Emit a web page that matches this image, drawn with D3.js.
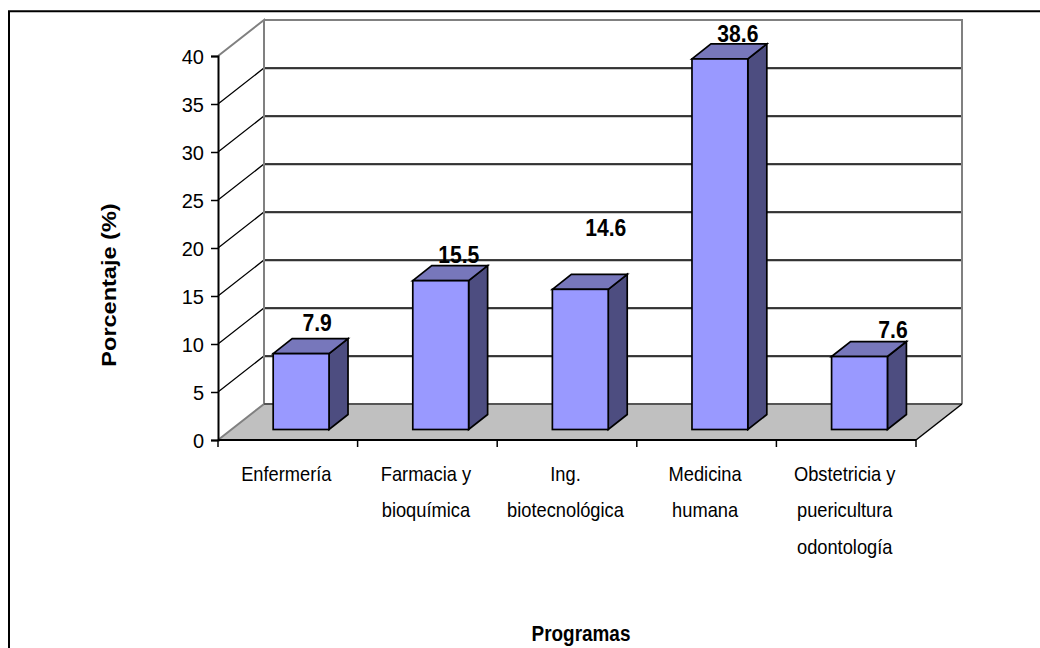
<!DOCTYPE html>
<html>
<head>
<meta charset="utf-8">
<script src="https://cdn.jsdelivr.net/npm/d3@7"></script>
<style>
  html, body { margin: 0; padding: 0; background: #fff; }
  svg { display: block; font-family: "Liberation Sans", Arial, sans-serif; }
  text { fill: #000; }
</style>
</head>
<body>
<svg id="chart" width="1040" height="648"></svg>
<script>
// Survey share by study programme
const categories = [
  ["Enfermería"],
  ["Farmacia y", "bioquímica"],
  ["Ing.", "biotecnológica"],
  ["Medicina", "humana"],
  ["Obstetricia y", "puericultura", "odontología"]
];
const percentages = [7.9, 15.5, 14.6, 38.6, 7.6];
const yTicks = [0, 5, 10, 15, 20, 25, 30, 35, 40];
const yTitle = "Porcentaje (%)";
const xTitle = "Programas";

// Data labels sit off-centre from their bars
const labelShiftX = [16, 18, 25.5, 18, 33.5];
const labelShiftY = [-23, -18, -53, -16.5, -19];

const svg = d3.select("#chart");

const names = categories.map(c => c.join(" "));
const x = d3.scaleBand().domain(names).range([218, 916]);
const y = d3.scaleLinear().domain([0, 40]).range([440, 56]);

// Oblique projection of the 3D box
const depthX = 46, depthY = 36;
const barDepthX = 19, barDepthY = 15;
const barInsetX = 13.3, barInsetY = 10.5;
const barWidth = x.bandwidth() * 0.4;

const GREY = "#808080";

function put(sel, tx, ty, str, size, weight, sx, rot) {
  return sel.append("text")
    .attr("transform", `translate(${tx},${ty})` + (rot ? ` rotate(${rot})` : "") + ` scale(${sx},1)`)
    .attr("text-anchor", "middle")
    .attr("font-size", size)
    .attr("font-weight", weight)
    .text(str);
}

// Page frame: top and left rules only
svg.append("path").attr("d", "M9,648V11.3H1040")
  .attr("fill", "none").attr("stroke", "#000").attr("stroke-width", 2);

const [x0, x1] = x.range();
const gy0 = y(0), gyTop = y(40);

// Floor
svg.append("path")
  .attr("d", `M${x0},${gy0}L${x0 + depthX},${gy0 - depthY}H${x1 + depthX}L${x1},${gy0}Z`)
  .attr("fill", "#c0c0c0");

// Gridlines across both walls
const grid = svg.append("g");
yTicks.slice(1, -1).forEach(t => {
  grid.append("path")
    .attr("d", `M${x0 + depthX},${y(t) - depthY + 1}H${x1 + depthX}`)
    .attr("stroke", "#999").attr("fill", "none");
  grid.append("path")
    .attr("d", `M${x0},${y(t)}L${x0 + depthX},${y(t) - depthY}H${x1 + depthX}`)
    .attr("stroke", "#000").attr("stroke-width", 1.3).attr("fill", "none");
});

// Wall outline
svg.append("path")
  .attr("d", `M${x0},${gy0}L${x0 + depthX},${gy0 - depthY}V${gyTop - depthY}L${x0},${gyTop}M${x0 + depthX},${gyTop - depthY}H${x1 + depthX}V${gy0 - depthY}`)
  .attr("fill", "none").attr("stroke", GREY).attr("stroke-width", 2);
svg.append("path")
  .attr("d", `M${x0 + depthX},${gy0 - depthY}H${x1 + depthX}`)
  .attr("stroke", "#555").attr("stroke-width", 2);
svg.append("path")
  .attr("d", `M${x1},${gy0}L${x1 + depthX},${gy0 - depthY}`)
  .attr("stroke", "#000").attr("stroke-width", 1.5);

// Axes
const yAxis = d3.axisLeft(y).tickValues(yTicks).tickSize(7).tickPadding(7);
const yG = svg.append("g").attr("transform", `translate(${x0},0)`).call(yAxis);
yG.selectAll(".domain").attr("stroke", "#000").attr("stroke-width", 2);
yG.selectAll(".tick line").attr("stroke", "#000").attr("stroke-width", 1.5);
yG.selectAll(".tick text").attr("font-size", 20).attr("font-family", "Liberation Sans").attr("dy", "0.35em");

const edges = names.map(n => x(n)).concat(x1);
const xAxisG = svg.append("g");
xAxisG.append("path").attr("d", `M${x0},${gy0}H${x1}`).attr("stroke", "#000").attr("stroke-width", 2);
xAxisG.selectAll("line").data(edges).join("line")
  .attr("x1", d => d).attr("x2", d => d)
  .attr("y1", gy0).attr("y2", gy0 + 7)
  .attr("stroke", "#000").attr("stroke-width", 1.5);

// Category labels
names.forEach((n, i) => {
  categories[i].forEach((line, k) => {
    put(svg, x(n) + x.bandwidth() / 2 - 1.5, 480.5 + k * 36.5, line, 21, "normal", 0.87);
  });
});

// Bars
const bars = svg.append("g").selectAll("g").data(percentages).join("g");
const left = (d, i) => x(names[i]) + x.bandwidth() / 2 - barWidth / 2 + barInsetX;
const top_ = d => y(d) - barInsetY;
const bottom = gy0 - barInsetY;
const edge = { stroke: "#000", "stroke-width": 1.7, "stroke-linejoin": "miter" };

function styled(sel, fill) {
  sel.attr("fill", fill);
  Object.entries(edge).forEach(([k, v]) => sel.attr(k, v));
}
bars.append("path").call(styled, "#4d4d80")
  .attr("d", (d, i) => {
    const r = left(d, i) + barWidth;
    return `M${r},${top_(d)}l${barDepthX},${-barDepthY}V${bottom - barDepthY}L${r},${bottom}Z`;
  });
bars.append("path").call(styled, "#7777bb")
  .attr("d", (d, i) => {
    const l = left(d, i);
    return `M${l},${top_(d)}l${barDepthX},${-barDepthY}h${barWidth}l${-barDepthX},${barDepthY}Z`;
  });
bars.append("rect").call(styled, "#9999ff")
  .attr("x", left)
  .attr("y", top_)
  .attr("width", barWidth)
  .attr("height", d => bottom - top_(d));

// Value labels
percentages.forEach((v, i) => {
  put(svg, left(v, i) + barWidth / 2 + labelShiftX[i], top_(v) + labelShiftY[i], v.toFixed(1), 24, "bold", 0.88);
});

// Axis titles
put(svg, 115.5, 285, yTitle, 21, "bold", 1.12, -90);
put(svg, 581, 641, xTitle, 21.5, "bold", 0.88);
</script>
</body>
</html>
